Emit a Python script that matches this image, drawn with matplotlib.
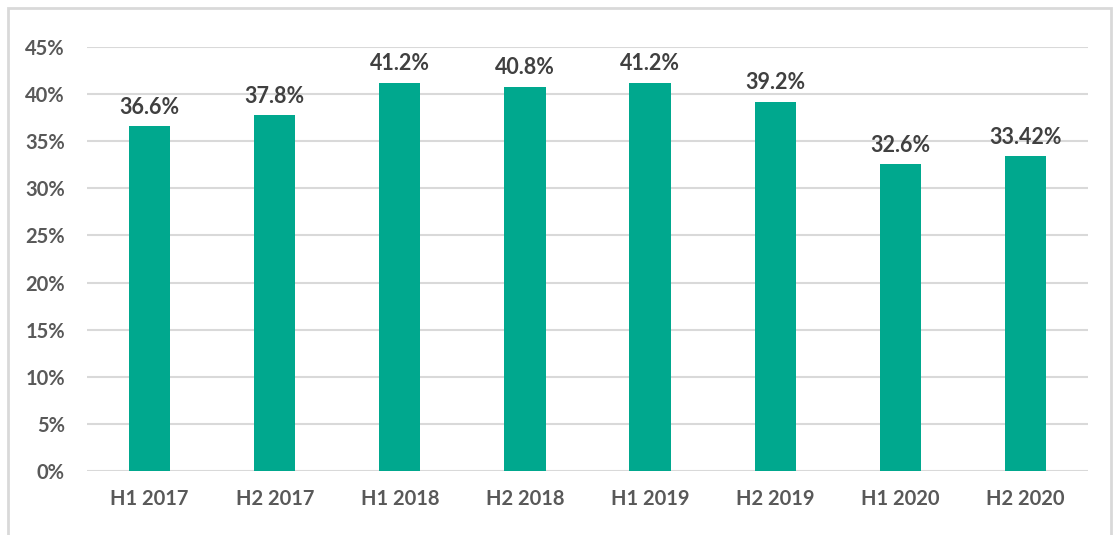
import matplotlib.pyplot as plt
from matplotlib.patches import Rectangle
from matplotlib.ticker import FuncFormatter

# data
periods = ['H1 2017', 'H2 2017', 'H1 2018', 'H2 2018', 'H1 2019', 'H2 2019', 'H1 2020', 'H2 2020']
values = [36.6, 37.8, 41.2, 40.8, 41.2, 39.2, 32.6, 33.42]
value_labels = ['36.6%', '37.8%', '41.2%', '40.8%', '41.2%', '39.2%', '32.6%', '33.42%']

bar_color = '#00A88E'
text_color = '#595959'
label_color = '#404040'
grid_color = '#D9D9D9'

plt.rcParams['font.family'] = ['Lato', 'DejaVu Sans']

fig = plt.figure(figsize=(11.2, 5.35), dpi=100)
ax = fig.add_axes([0.0777, 0.1196, 0.8937, 0.7925])

x = range(len(periods))
bars = ax.bar(x, values, width=0.33, color=bar_color, zorder=3)

for b, lab in zip(bars, value_labels):
    ax.annotate(lab, (b.get_x() + b.get_width() / 2, b.get_height()),
                xytext=(0, 6), textcoords='offset points', ha='center', va='bottom',
                fontsize=15.5, fontweight='bold', color=label_color)

ax.set_ylim(0, 45)
ax.set_xlim(-0.5, len(periods) - 0.5)
ax.set_yticks(range(0, 46, 5))
ax.yaxis.set_major_formatter(FuncFormatter(lambda v, p: f'{v:.0f}%'))
ax.set_xticks(list(x))
ax.set_xticklabels(periods)
ax.grid(axis='y', color=grid_color, linewidth=1.5, zorder=0)
ax.tick_params(axis='both', length=0, labelsize=14.5, labelcolor=text_color)
ax.tick_params(axis='y', pad=16)
ax.tick_params(axis='x', pad=13)
for lbl in ax.get_xticklabels() + ax.get_yticklabels():
    lbl.set_fontweight('bold')
for s in ax.spines.values():
    s.set_visible(False)

# light chart border
fig.patches.append(Rectangle((8 / 1120, -0.05), 1103 / 1120, 1.05 - 8 / 535,
                             transform=fig.transFigure, fill=False,
                             edgecolor=grid_color, linewidth=2))

plt.savefig('out.png', dpi=100)
